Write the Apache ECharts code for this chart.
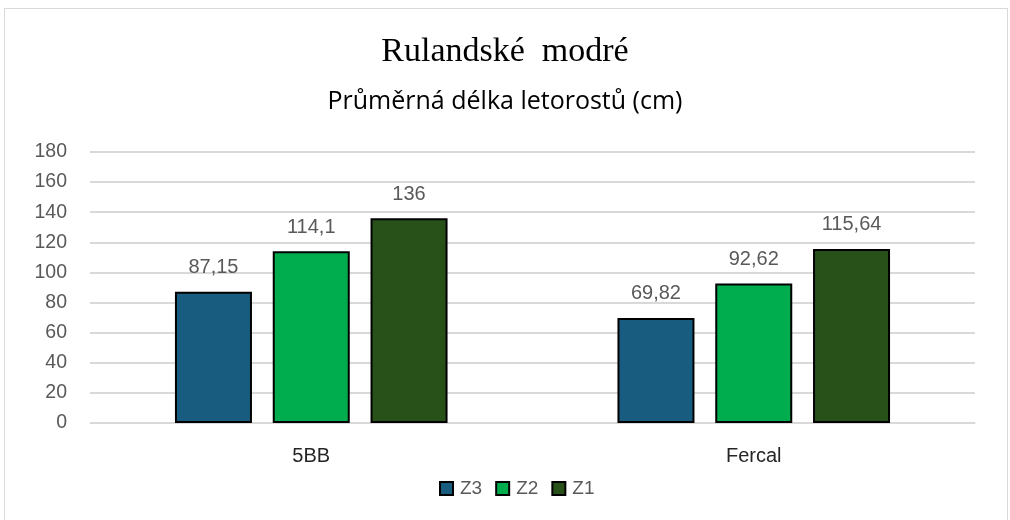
<!DOCTYPE html>
<html>
<head>
<meta charset="utf-8">
<script src="https://cdn.jsdelivr.net/npm/echarts@6/dist/echarts.min.js"></script>
<style>
  html, body { margin: 0; padding: 0; background: #fff; }
  #frame { position: absolute; left: 4px; top: 8px; width: 1004px; height: 520px; border: 1px solid #d9d9d9; box-sizing: border-box; }
  #chart { position: absolute; left: 0; top: 0; width: 1010px; height: 520px; }
</style>
</head>
<body>
<div id="frame"></div>
<div id="chart"></div>
<script>
// categories and series values
const categories = ['5BB', 'Fercal'];
const seriesNames = ['Z3', 'Z2', 'Z1'];
const z3 = [87.15, 69.82];
const z2 = [114.1, 92.62];
const z1 = [136, 115.64];
const colors = ['#185d80', '#00ad4e', '#285119'];

let myChart = echarts.init(document.getElementById('chart'));

// čísla s desetinnou čárkou
function fmt (p) {
  return String(p.value).replace('.', ',');
}

function makeSeries (name, data, color) {
  return {
    name: name,
    type: 'bar',
    data: data,
    barWidth: 77,
    barGap: '27%',
    itemStyle: {
      color: color,
      borderColor: '#000',
      borderWidth: 2
    },
    label: {
      show: true,
      position: 'top',
      distance: 14,
      formatter: fmt,
      color: '#595959',
      fontSize: 20,
      fontFamily: 'Liberation Sans'
    }
  };
}

let option = {
  animation: false,
  title: [{
    text: 'Rulandské  modré',
    left: 'center',
    top: 30,
    textStyle: {
      fontFamily: 'Liberation Serif',
      fontWeight: 'normal',
      fontSize: 34,
      color: '#000'
    }
  }, {
    text: 'Průměrná délka letorostů (cm)',
    left: 'center',
    top: 84,
    textStyle: {
      fontFamily: 'Open Sans',
      fontWeight: 'normal',
      fontSize: 25,
      color: '#000'
    }
  }],
  grid: {
    left: 90,
    right: 35,
    top: 152,
    bottom: 97
  },
  legend: {
    data: seriesNames,
    bottom: 17,
    left: 434,
    itemWidth: 13,
    itemHeight: 13,
    itemGap: 13,
    icon: 'rect',
    itemStyle: { borderColor: '#000', borderWidth: 2 },
    textStyle: {
      color: '#595959',
      fontSize: 19,
      fontFamily: 'Liberation Sans',
      padding: [0, 0, 0, 2]
    }
  },
  xAxis: {
    type: 'category',
    data: categories,
    axisLine: { show: true, lineStyle: { color: '#d9d9d9', width: 1 } },
    axisTick: { show: false },
    axisLabel: {
      margin: 23,
      color: '#262626',
      fontSize: 20,
      fontFamily: 'Liberation Sans'
    }
  },
  yAxis: {
    type: 'value',
    min: 0,
    max: 180,
    interval: 20,
    axisLine: { show: false },
    axisTick: { show: false },
    axisLabel: {
      margin: 23,
      color: '#595959',
      fontSize: 19.5,
      fontFamily: 'Liberation Sans'
    },
    splitLine: {
      show: true,
      lineStyle: { color: '#d9d9d9', width: 2 }
    }
  },
  series: [
    makeSeries(seriesNames[0], z3, colors[0]),
    makeSeries(seriesNames[1], z2, colors[1]),
    makeSeries(seriesNames[2], z1, colors[2])
  ]
};

myChart.setOption(option);
</script>
</body>
</html>
